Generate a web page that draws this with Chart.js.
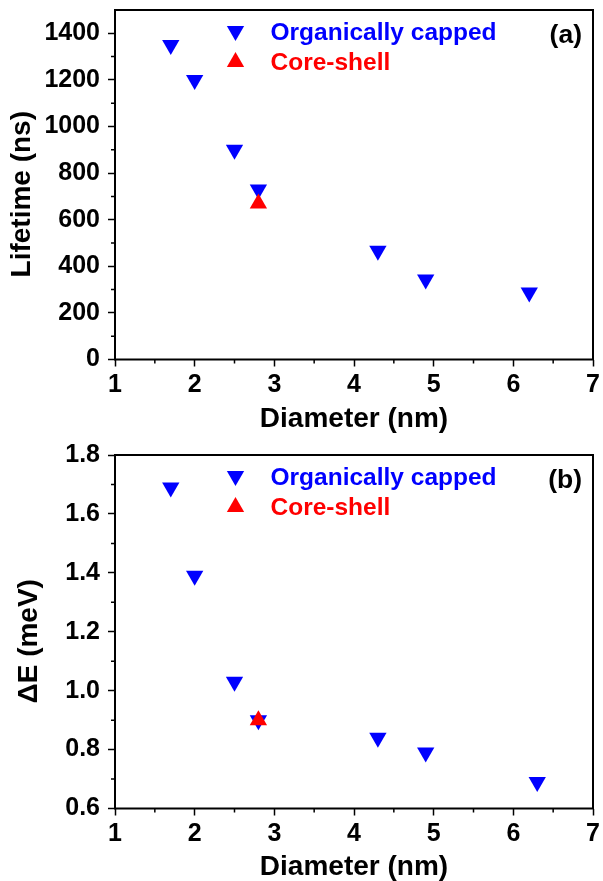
<!DOCTYPE html>
<html lang="en">
<head>
<meta charset="UTF-8">
<title>Lifetime and splitting vs diameter</title>
<script src="https://cdn.jsdelivr.net/npm/chart.js/dist/chart.umd.min.js"></script>
<style>
  html, body { margin: 0; padding: 0; background: #fff; }
  #wrap { position: relative; width: 603px; height: 881px; }
  canvas { position: absolute; left: 0; }
  #chartA { top: 0; }
  #chartB { top: 433px; }
</style>
</head>
<body>
<div id="wrap">
  <canvas id="chartA" width="603" height="433"></canvas>
  <canvas id="chartB" width="603" height="448"></canvas>
</div>
<script>
// panel (a): lifetime vs diameter
const diamCappedA = [1.7, 2.0, 2.5, 2.8, 4.3, 4.9, 6.2];
const lifetimeCapped = [1350, 1200, 900, 730, 467, 343, 288];
const diamShellA = [2.8];
const lifetimeShell = [670];

// panel (b): delta E vs diameter
const diamCappedB = [1.7, 2.0, 2.5, 2.8, 4.3, 4.9, 6.3];
const deltaECapped = [1.69, 1.39, 1.03, 0.90, 0.84, 0.79, 0.69];
const diamShellB = [2.8];
const deltaEShell = [0.90];

// axis ticks
const xTicks = [1, 2, 3, 4, 5, 6, 7];
const xMinor = [1.5, 2.5, 3.5, 4.5, 5.5, 6.5];
const yTicksA = [0, 200, 400, 600, 800, 1000, 1200, 1400];
const yMinorA = [100, 300, 500, 700, 900, 1100, 1300];
const yTicksB = [0.6, 0.8, 1.0, 1.2, 1.4, 1.6, 1.8];
const yMinorB = [0.7, 0.9, 1.1, 1.3, 1.5, 1.7];

const FONT = "'Liberation Sans', Arial, sans-serif";
const BLUE = '#0000ff';
const RED = '#ff0000';

function triangle(ctx, x, y, r, down) {
    const s = down ? -1 : 1;
    ctx.beginPath();
    ctx.moveTo(x, y - s * r);
    ctx.lineTo(x + r * Math.sin(Math.PI / 3), y + s * r / 2);
    ctx.lineTo(x - r * Math.sin(Math.PI / 3), y + s * r / 2);
    ctx.closePath();
    ctx.fill();
}

// box, minor ticks, y title, legend and panel tag
const framePlugin = {
    id: 'frame',
    afterDraw(chart, args, opts) {
        const ctx = chart.ctx, a = chart.chartArea;
        const xs = chart.scales.x, ys = chart.scales.y;
        ctx.save();
        ctx.strokeStyle = '#000';
        ctx.lineWidth = 2;
        ctx.strokeRect(a.left, a.top, a.right - a.left, a.bottom - a.top);

        ctx.lineWidth = 1.5;
        ctx.beginPath();
        xMinor.forEach(v => {
            const px = xs.getPixelForValue(v);
            ctx.moveTo(px, a.bottom);
            ctx.lineTo(px, a.bottom + 4);
        });
        opts.yMinor.forEach(v => {
            const py = ys.getPixelForValue(v);
            ctx.moveTo(a.left, py);
            ctx.lineTo(a.left - 4, py);
        });
        ctx.stroke();

        // y axis title
        ctx.fillStyle = '#000';
        ctx.font = 'bold 28px ' + FONT;
        ctx.textAlign = 'center';
        ctx.textBaseline = 'middle';
        ctx.translate(opts.titleX, (a.top + a.bottom) / 2 + 9.5);
        ctx.rotate(-Math.PI / 2);
        ctx.fillText(opts.yTitle, 0, 0);
        ctx.setTransform(1, 0, 0, 1, 0, 0);

        // legend
        ctx.textAlign = 'left';
        ctx.textBaseline = 'alphabetic';
        ctx.font = 'bold 24.5px ' + FONT;
        ctx.fillStyle = BLUE;
        triangle(ctx, a.left + 120.5, a.top + 21, 10, true);
        ctx.fillText('Organically capped', a.left + 155.5, a.top + 30);
        ctx.fillStyle = RED;
        triangle(ctx, a.left + 120.5, a.top + 52, 10, false);
        ctx.fillText('Core-shell', a.left + 155.5, a.top + 60);

        // panel tag
        ctx.fillStyle = '#000';
        ctx.font = 'bold 26.5px ' + FONT;
        ctx.textAlign = 'right';
        ctx.fillText(opts.tag, a.right - 11, a.top + 32.5);
        ctx.restore();
    }
};

function makeChart(id, capX, capY, shX, shY, yTicks, yMin, yMax, fmt, frame, padTop, xHeight) {
    const capped = capX.map((x, i) => ({ x: x, y: capY[i] }));
    const shell = shX.map((x, i) => ({ x: x, y: shY[i] }));
    return new Chart(document.getElementById(id), {
        type: 'scatter',
        data: {
            datasets: [
                {
                    label: 'Core-shell',
                    data: shell,
                    pointStyle: 'triangle',
                    pointRadius: 10,
                    pointHoverRadius: 10,
                    pointBorderWidth: 0,
                    backgroundColor: RED,
                    borderColor: RED
                },
                {
                    label: 'Organically capped',
                    data: capped,
                    pointStyle: 'triangle',
                    pointRotation: 180,
                    pointRadius: 10,
                    pointHoverRadius: 10,
                    pointBorderWidth: 0,
                    backgroundColor: BLUE,
                    borderColor: BLUE
                }
            ]
        },
        options: {
            responsive: false,
            animation: false,
            layout: { padding: { top: padTop, right: 7, bottom: 0, left: 0 } },
            plugins: {
                legend: { display: false },
                tooltip: { enabled: false },
                frame: frame
            },
            scales: {
                x: {
                    type: 'linear',
                    min: 1,
                    max: 7,
                    afterBuildTicks: s => { s.ticks = xTicks.map(v => ({ value: v })); },
                    afterFit: s => { s.height = xHeight; s.paddingLeft = 0; s.paddingRight = 0; },
                    border: { display: false },
                    grid: { drawOnChartArea: false, drawTicks: true, tickLength: 7, tickColor: '#000', tickWidth: 1.5 },
                    ticks: { color: '#000', padding: 6, font: { family: FONT, size: 25, weight: 'bold', lineHeight: 1 } },
                    title: {
                        display: true,
                        text: 'Diameter (nm)',
                        color: '#000',
                        padding: { top: 8, bottom: 0 },
                        font: { family: FONT, size: 28, weight: 'bold', lineHeight: 1 }
                    }
                },
                y: {
                    type: 'linear',
                    min: yMin,
                    max: yMax,
                    afterBuildTicks: s => { s.ticks = yTicks.map(v => ({ value: v })); },
                    afterFit: s => { s.width = 115; s.paddingTop = 0; s.paddingBottom = 0; },
                    border: { display: false },
                    grid: { drawOnChartArea: false, drawTicks: true, tickLength: 7, tickColor: '#000', tickWidth: 1.5 },
                    ticks: {
                        color: '#000',
                        padding: 8,
                        callback: fmt,
                        font: { family: FONT, size: 25, weight: 'bold', lineHeight: 1 }
                    },
                    title: { display: false }
                }
            }
        },
        plugins: [framePlugin]
    });
}

makeChart('chartA', diamCappedA, lifetimeCapped, diamShellA, lifetimeShell,
    yTicksA, 0, 1500, v => String(v),
    { yMinor: yMinorA, yTitle: 'Lifetime (ns)', titleX: 22, tag: '(a)' }, 6, 73.5);

makeChart('chartB', diamCappedB, deltaECapped, diamShellB, deltaEShell,
    yTicksB, 0.6, 1.8, v => Number(v).toFixed(1),
    { yMinor: yMinorB, yTitle: '\u0394E (meV)', titleX: 29.5, tag: '(b)' }, 22, 72.5);
</script>
</body>
</html>
